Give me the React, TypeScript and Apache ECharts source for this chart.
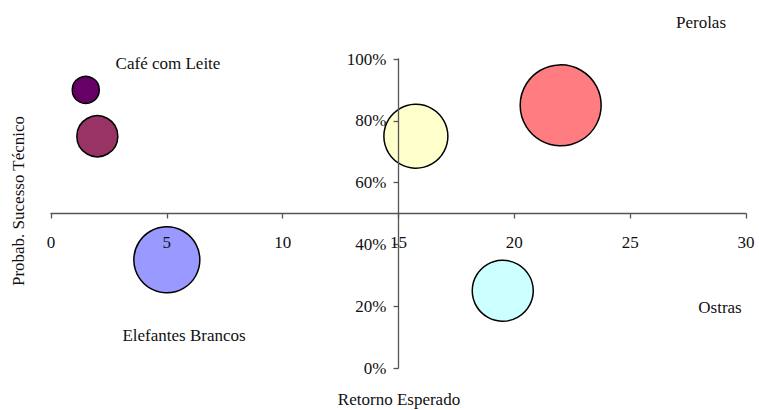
import React, { useEffect, useRef } from "react";
import * as echarts from "echarts";

const names = ["Café com Leite A", "Café com Leite B", "Elefantes Brancos", "Pérola A", "Pérola B", "Ostras"];
const retorno = [1.5, 2, 5, 15.75, 22, 19.5];
const probab = [0.9, 0.75, 0.35, 0.75, 0.85, 0.25];
const bubbleValue = [27, 41, 66, 64, 81, 61];
const colors = ["#660066", "#993366", "#9999FF", "#FFFFCC", "#FF7C80", "#CCFFFF"];
const xTicks = [0, 5, 10, 15, 20, 25, 30];
const yTicks = [0, 0.2, 0.4, 0.6, 0.8, 1];

const FONT = "Liberation Serif, Times New Roman, serif";

export default function App() {
  const ref = useRef<HTMLDivElement>(null);
  useEffect(() => {
    const chart = echarts.init(ref.current!, null, { renderer: "svg" });
    const gridLeft = 51, gridRight = 13, gridTop = 59, gridBottom = 42;
    const gw = 759 - gridLeft - gridRight;
    const gh = 410 - gridTop - gridBottom;
    const xMin = xTicks[0], xMax = xTicks[xTicks.length - 1];
    const xCross = 15, yCross = 0.5;
    const yOffset = -(gh * (yCross - yTicks[0]) / (yTicks[yTicks.length - 1] - yTicks[0]));
    const xOffset = -(gw * (xCross - xMin) / (xMax - xMin));
    const txt = { fontFamily: FONT, fontSize: 17, fill: "#111" };
    chart.setOption({
      animation: false,
      textStyle: { fontFamily: FONT },
      grid: { left: gridLeft, right: gridRight, top: gridTop, bottom: gridBottom },
      xAxis: {
        type: "value",
        min: xMin,
        max: xMax,
        interval: 5,
        position: "bottom",
        offset: yOffset,
        z: 10,
        axisLine: { show: true, onZero: false, lineStyle: { color: "#555", width: 1.3 } },
        axisTick: { show: true, length: 5, lineStyle: { color: "#555", width: 1.3 } },
        axisLabel: { margin: 20, fontFamily: FONT, fontSize: 17, color: "#111" },
        splitLine: { show: false },
      },
      yAxis: {
        type: "value",
        min: 0,
        max: 1,
        interval: 0.2,
        position: "left",
        offset: xOffset,
        z: 10,
        axisLine: { show: true, onZero: false, lineStyle: { color: "#555", width: 1.3 } },
        axisTick: { show: true, length: 5, lineStyle: { color: "#555", width: 1.3 } },
        axisLabel: {
          margin: 12,
          fontFamily: FONT,
          fontSize: 17,
          color: "#111",
          formatter: (v: number) => Math.round(v * 100) + "%",
        },
        splitLine: { show: false },
      },
      series: [
        {
          type: "scatter",
          symbol: "circle",
          z: 2,
          symbolSize: (val: number[]) => val[2],
          data: names.map((n, i) => ({
            name: n,
            value: [retorno[i], probab[i], bubbleValue[i]],
            itemStyle: { color: colors[i], borderColor: "#000", borderWidth: 1.5, opacity: 1 },
          })),
        },
      ],
      graphic: [
        { type: "text", x: 701, y: 22, style: { ...txt, text: "Perolas", align: "center", verticalAlign: "middle" } },
        { type: "text", x: 168, y: 63, style: { ...txt, text: "Café com Leite", align: "center", verticalAlign: "middle" } },
        { type: "text", x: 184, y: 335, style: { ...txt, text: "Elefantes Brancos", align: "center", verticalAlign: "middle" } },
        { type: "text", x: 720, y: 307, style: { ...txt, text: "Ostras", align: "center", verticalAlign: "middle" } },
        { type: "text", x: 399, y: 399, style: { ...txt, text: "Retorno Esperado", align: "center", verticalAlign: "middle" } },
        {
          type: "text",
          x: 18,
          y: 201,
          rotation: Math.PI / 2,
          style: { ...txt, text: "Probab. Sucesso Técnico", align: "center", verticalAlign: "middle" },
        },
      ],
    });
    return () => chart.dispose();
  }, []);
  return (
    <div
      ref={ref}
      style={{ position: "fixed", left: 0, top: 0, width: 759, height: 410, background: "#fff" }}
    />
  );
}
